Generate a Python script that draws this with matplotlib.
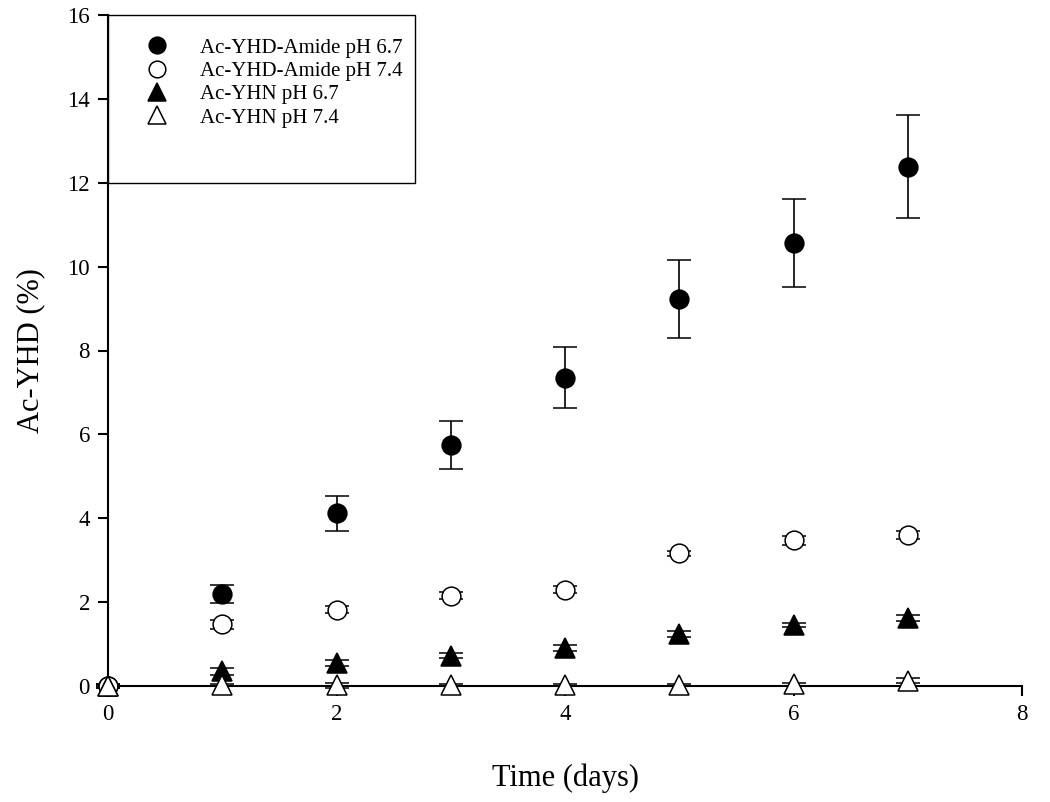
import matplotlib
matplotlib.use("Agg")
import matplotlib.pyplot as plt
from matplotlib.lines import Line2D
from matplotlib.patches import Rectangle
import numpy as np

plt.rcParams['font.family'] = ['Liberation Serif', 'DejaVu Serif']

days = [0, 1, 2, 3, 4, 5, 6, 7]
amide_67 = [0.0, 2.20, 4.12, 5.75, 7.35, 9.22, 10.57, 12.38]
amide_67_err = [0.05, 0.22, 0.42, 0.57, 0.73, 0.93, 1.05, 1.23]
amide_74 = [0.0, 1.47, 1.82, 2.15, 2.30, 3.17, 3.47, 3.60]
amide_74_err = [0.05, 0.10, 0.08, 0.08, 0.08, 0.06, 0.10, 0.10]
yhn_67 = [0.0, 0.35, 0.55, 0.72, 0.90, 1.25, 1.45, 1.62]
yhn_67_err = [0.03, 0.08, 0.07, 0.06, 0.07, 0.07, 0.05, 0.08]
yhn_74 = [0.0, 0.02, 0.02, 0.02, 0.02, 0.02, 0.04, 0.12]
yhn_74_err = [0.02, 0.02, 0.06, 0.02, 0.02, 0.02, 0.04, 0.06]

labels = ["Ac-YHD-Amide pH 6.7", "Ac-YHD-Amide pH 7.4", "Ac-YHN pH 6.7", "Ac-YHN pH 7.4"]
markers = ['o', 'o', '^', '^']
faces = ['black', 'white', 'black', 'white']

fig = plt.figure(figsize=(10.5, 8.02), dpi=100)
ax = fig.add_axes([108/1050, 116/802, (1022-108)/1050, (686-15)/802])

series = [(amide_67, amide_67_err), (amide_74, amide_74_err), (yhn_67, yhn_67_err), (yhn_74, yhn_74_err)]
for (vals, errs), m, fc, lab in zip(series, markers, faces, labels):
    ax.errorbar(days, vals, yerr=errs, marker=m, markerfacecolor=fc, label=lab,
                linestyle='none', ecolor='black', elinewidth=1.2, capsize=8.5, capthick=1.2,
                markeredgecolor='black', markeredgewidth=1.1,
                markersize=(13.5 if m == 'o' else 14.5), zorder=3, clip_on=False)

ax.set_xlim(0, 8)
ax.set_ylim(0, 16)
ax.set_xticks([0, 2, 4, 6, 8])
ax.set_yticks(np.arange(0, 17, 2))
for s in ['top', 'right']:
    ax.spines[s].set_visible(False)
for s in ['left', 'bottom']:
    ax.spines[s].set_linewidth(1.5)
ax.tick_params(direction='out', length=7, width=1.5, labelsize=16.5, pad=6)
ax.set_xlabel("Time (days)", fontsize=22, labelpad=28)
ax.set_ylabel("Ac-YHD (%)", fontsize=22, labelpad=16)

# legend box
ax.add_patch(Rectangle((0, (686-183)/671), (415-108)/914, (183-15)/671, transform=ax.transAxes,
                       facecolor='white', edgecolor='black', linewidth=1.0, zorder=4, clip_on=False))

handles = [Line2D([], [], linestyle='none', marker=m, markerfacecolor=fc, markeredgecolor='black',
                  markersize=(12 if m == 'o' else 13), markeredgewidth=1.1)
           for m, fc in zip(markers, faces)]
leg = ax.legend(handles, labels, loc='upper left', bbox_to_anchor=(146.6/1050, (802-38)/802),
                bbox_transform=fig.transFigure, borderaxespad=0, borderpad=0,
                fontsize=15, frameon=False, handletextpad=1.57, labelspacing=0.18, handlelength=1.0)
leg.set_zorder(5)

fig.savefig("out.png", dpi=100)
